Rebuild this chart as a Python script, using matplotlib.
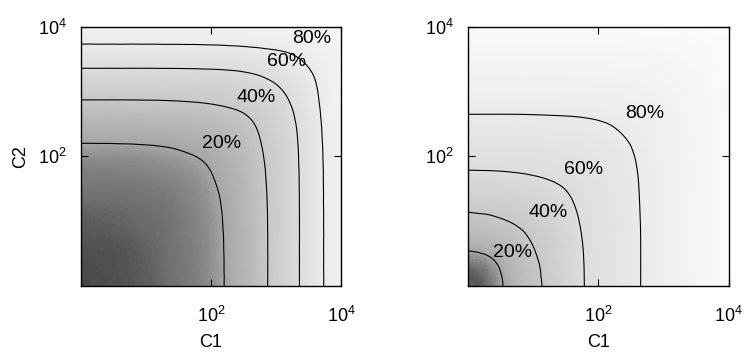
import numpy as np
import matplotlib
matplotlib.use("Agg")
from matplotlib import pyplot as plt
import matplotlib.tri as mtri
from matplotlib.colors import LinearSegmentedColormap, Normalize
from matplotlib.ticker import NullLocator

plt.rcParams["font.family"] = ["Liberation Sans", "DejaVu Sans"]
plt.rcParams["mathtext.fontset"] = "custom"
plt.rcParams["mathtext.rm"] = "Liberation Sans"
plt.rcParams["mathtext.default"] = "regular"

# grid nodes (log10 of C1 and C2, same on both axes)
log_c = [0, 1/3, 2/3, 1, 4/3, 5/3, 2, 7/3, 8/3, 3, 10/3, 11/3, 4]

# percentage at each node, rows = C2 (bottom to top), cols = C1 (left to right)
z_left = [
    [3.6, 4.1, 4.7, 5.5, 7.3, 10.2, 14.6, 23.9, 33.3, 44.3, 58.5, 77.0, 88.0],
    [4.1, 4.4, 4.9, 5.8, 7.5, 10.3, 14.8, 23.9, 33.4, 44.3, 58.5, 77.0, 88.0],
    [4.7, 4.9, 5.2, 6.3, 7.7, 10.6, 15.0, 24.1, 33.5, 44.3, 58.5, 77.0, 88.0],
    [5.5, 5.8, 6.3, 7.0, 8.2, 11.2, 15.6, 24.4, 33.6, 44.4, 58.5, 77.0, 88.0],
    [7.3, 7.5, 7.7, 8.2, 9.6, 12.3, 16.8, 25.0, 33.9, 44.6, 58.6, 77.1, 88.0],
    [10.2, 10.3, 10.6, 11.2, 12.3, 14.1, 19.1, 26.2, 34.5, 45.1, 58.8, 77.2, 88.0],
    [14.6, 14.8, 15.0, 15.6, 16.8, 19.1, 22.9, 28.5, 35.8, 46.0, 59.3, 77.5, 88.1],
    [23.9, 23.9, 24.1, 24.4, 25.0, 26.2, 28.5, 32.4, 38.1, 47.9, 60.3, 78.1, 88.2],
    [33.3, 33.4, 33.5, 33.6, 33.9, 34.5, 35.8, 38.1, 42.9, 51.3, 62.7, 79.3, 88.4],
    [44.3, 44.3, 44.3, 44.4, 44.6, 45.1, 46.0, 47.9, 51.3, 57.1, 67.4, 80.9, 88.8],
    [58.5, 58.5, 58.5, 58.5, 58.6, 58.8, 59.3, 60.3, 62.7, 67.4, 75.1, 83.2, 89.7],
    [77.0, 77.0, 77.0, 77.0, 77.1, 77.2, 77.5, 78.1, 79.3, 80.9, 83.2, 87.1, 91.3],
    [88.0, 88.0, 88.0, 88.0, 88.0, 88.0, 88.1, 88.2, 88.4, 88.8, 89.7, 91.3, 94.0],
]

z_right = [
    [7.1, 9.0, 26.5, 36.3, 46.4, 56.7, 65.2, 72.8, 80.3, 85.4, 90.3, 93.0, 95.6],
    [9.0, 15.0, 29.2, 37.8, 47.1, 57.0, 65.3, 72.8, 80.3, 85.4, 90.3, 93.0, 95.6],
    [26.5, 29.2, 33.8, 40.5, 48.5, 57.7, 65.5, 72.9, 80.3, 85.4, 90.3, 93.0, 95.6],
    [36.3, 37.8, 40.5, 44.8, 51.1, 59.1, 66.0, 73.2, 80.4, 85.4, 90.3, 93.0, 95.6],
    [46.4, 47.1, 48.5, 51.1, 55.4, 61.2, 67.0, 73.7, 80.6, 85.5, 90.3, 93.0, 95.6],
    [56.7, 57.0, 57.7, 59.1, 61.2, 64.3, 68.9, 74.7, 80.9, 85.7, 90.3, 93.0, 95.6],
    [65.2, 65.3, 65.5, 66.0, 67.0, 68.9, 72.0, 76.5, 81.6, 86.0, 90.4, 93.0, 95.6],
    [72.8, 72.8, 72.9, 73.2, 73.7, 74.7, 76.5, 79.6, 82.8, 86.7, 90.6, 93.1, 95.7],
    [80.3, 80.3, 80.3, 80.4, 80.6, 80.9, 81.6, 82.8, 84.9, 87.9, 90.9, 93.3, 95.8],
    [85.4, 85.4, 85.4, 85.4, 85.5, 85.7, 86.0, 86.7, 87.9, 90.0, 91.6, 93.6, 95.9],
    [90.3, 90.3, 90.3, 90.3, 90.3, 90.3, 90.4, 90.6, 90.9, 91.6, 92.7, 94.3, 96.3],
    [93.0, 93.0, 93.0, 93.0, 93.0, 93.0, 93.0, 93.1, 93.3, 93.6, 94.3, 95.3, 96.9],
    [95.6, 95.6, 95.6, 95.6, 95.6, 95.6, 95.6, 95.7, 95.8, 95.9, 96.3, 96.9, 98.0],
]

levels = [20, 40, 60, 80]
level_labels = ["20%", "40%", "60%", "80%"]
# where the level labels sit (log10 C1, log10 C2)
label_pos_left = [(2.17, 2.2), (2.7, 2.91), (3.17, 3.46), (3.55, 3.82)]
label_pos_right = [(0.69, 0.52), (1.23, 1.14), (1.78, 1.8), (2.71, 2.66)]

tick_vals = [1e2, 1e4]
tick_labels = ["$10^{2}$", "$10^{4}$"]

# gray palette, roughly as seen in the picture
gray_pal = LinearSegmentedColormap.from_list("pal", [
    (0.00, "#1e1e1e"), (0.036, "#484848"), (0.07, "#6e6e6e"), (0.20, "#a6a6a6"),
    (0.40, "#c8c8c8"), (0.60, "#dcdcdc"), (0.80, "#eaeaea"), (0.90, "#f2f2f2"),
    (1.00, "#ffffff")])


def grid_triangles(n):
    tris = []
    for i in range(n - 1):
        for j in range(n - 1):
            a = i * n + j
            tris.append([a, a + 1, a + n + 1])
            tris.append([a, a + n + 1, a + n])
    return np.array(tris)


def draw_panel(ax, z, label_pos, ylabel=None):
    n = len(log_c)
    lx, ly = np.meshgrid(log_c, log_c)
    z = np.array(z).ravel()
    # smooth contours like gnuplot's cubic spline option
    tri = mtri.Triangulation(lx.ravel(), ly.ravel(), grid_triangles(n))
    interp = mtri.CubicTriInterpolator(tri, z, kind="min_E")
    tri_f, z_f = mtri.UniformTriRefiner(tri).refine_field(z, triinterpolator=interp, subdiv=3)
    tri_p = mtri.Triangulation(10 ** tri_f.x, 10 ** tri_f.y, tri_f.triangles)

    ax.tripcolor(tri_p, z_f, cmap=gray_pal, norm=Normalize(0, 100), shading="flat",
                 edgecolors="none", antialiased=False)
    ax.tricontour(tri_p, z_f, levels=levels, colors="k", linewidths=0.8)
    for lab, (px, py) in zip(level_labels, label_pos):
        ax.text(10 ** px, 10 ** py, lab, ha="center", va="center", fontsize=14)

    ax.set_xscale("log")
    ax.set_yscale("log")
    ax.set_xlim(1, 1e4)
    ax.set_ylim(1, 1e4)
    ax.set_xticks(tick_vals)
    ax.set_xticklabels(tick_labels)
    ax.set_yticks(tick_vals)
    ax.set_yticklabels(tick_labels)
    ax.xaxis.set_minor_locator(NullLocator())
    ax.yaxis.set_minor_locator(NullLocator())
    ax.tick_params(direction="in", top=True, right=True, length=5, width=0.8,
                   labelsize=13)
    ax.tick_params(axis="x", pad=14)
    ax.tick_params(axis="y", pad=10)
    for sp in ax.spines.values():
        sp.set_linewidth(1.0)

    ax.set_xlabel("C1", fontsize=13)
    ax.xaxis.set_label_coords(0.5, -0.185)
    if ylabel:
        ax.set_ylabel(ylabel, fontsize=13)
        ax.yaxis.set_label_coords(-0.2, 0.5)


fig = plt.figure(figsize=(7.45, 3.53), dpi=100)
ax1 = fig.add_axes([0.1087, 0.1898, 0.349, 0.734])
ax2 = fig.add_axes([0.628, 0.1898, 0.350, 0.734])

draw_panel(ax1, z_left, label_pos_left, ylabel="C2")
draw_panel(ax2, z_right, label_pos_right)

fig.savefig("out.png", dpi=100)
